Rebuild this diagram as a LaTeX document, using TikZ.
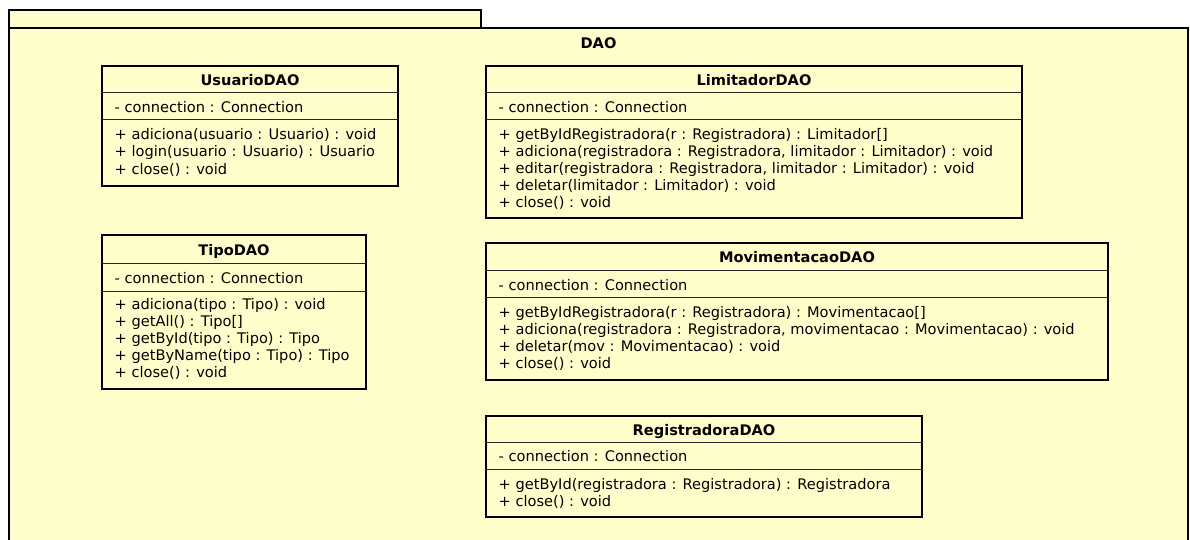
\documentclass[tikz,border=0pt]{standalone}
\usepackage{fontspec}
\setmainfont{DejaVu Sans}
\usetikzlibrary{calc}
\definecolor{umlfill}{HTML}{FFFFCC}
\tikzset{
  pkgframe/.style={draw=black, line width=2.2pt, fill=umlfill, rectangle,
    inner sep=0pt, outer sep=0pt, anchor=north west},
  classbox/.style={draw=black, line width=2.4pt, fill=umlfill, rectangle,
    inner sep=0pt, outer sep=0pt, anchor=north west},
  divider/.style={draw=black!85, line width=1pt},
  classname/.style={font=\fontsize{14.6}{17}\selectfont\bfseries, anchor=base, inner sep=0pt},
  member/.style={font=\fontsize{14.6}{17}\selectfont, anchor=base west, inner sep=0pt},
}
% #1 node name, #2 class box, #3 baseline offset from top, #4 text
\newcommand\umlmember[4]{\node[member] (#1) at ($(#2.north west)+(12.5,#3)$) {#4};}
% #1 class box, #2 offset of the divider from the top
\newcommand\umldivider[2]{\draw[divider] ($(#1.north west)+(0,#2)$) -- ($(#1.north east)+(0,#2)$);}

\begin{document}
\begin{tikzpicture}[x=1pt,y=-1pt]
\useasboundingbox (0,0) rectangle (1190,540);
\clip (0,0) rectangle (1190,540);
\fill[white] (0,0) rectangle (1190,540);

% package DAO: tab and body
\node[pkgframe, minimum width=472pt, minimum height=18pt] (daotab) at (9,10) {};
\node[pkgframe, minimum width=1179pt, minimum height=540pt] (dao) at (9,28) {};
\node[classname] (daoname) at ($(dao.north)+(0,20.5)$) {DAO};

% UsuarioDAO
\node[classbox, minimum width=296pt, minimum height=120pt] (usuario) at (102,66) {};
\node[classname] (usuario-name) at ($(usuario.north)+(0,19.5)$) {UsuarioDAO};
\umldivider{usuario}{27}
\umldivider{usuario}{54}
\umlmember{usuario-a1}{usuario}{47}{- connection : Connection}
\umlmember{usuario-m1}{usuario}{73.3}{+ adiciona(usuario : Usuario) : void}
\umlmember{usuario-m2}{usuario}{90.8}{+ login(usuario : Usuario) : Usuario}
\umlmember{usuario-m3}{usuario}{108.3}{+ close() : void}

% TipoDAO
\node[classbox, minimum width=264pt, minimum height=154pt] (tipo) at (102,235) {};
\node[classname] (tipo-name) at ($(tipo.north)+(0,20)$) {TipoDAO};
\umldivider{tipo}{28}
\umldivider{tipo}{56}
\umlmember{tipo-a1}{tipo}{48}{- connection : Connection}
\umlmember{tipo-m1}{tipo}{74}{+ adiciona(tipo : Tipo) : void}
\umlmember{tipo-m2}{tipo}{91.2}{+ getAll() : Tipo[]}
\umlmember{tipo-m3}{tipo}{108.4}{+ getById(tipo : Tipo) : Tipo}
\umlmember{tipo-m4}{tipo}{125.6}{+ getByName(tipo : Tipo) : Tipo}
\umlmember{tipo-m5}{tipo}{142.8}{+ close() : void}

% LimitadorDAO
\node[classbox, minimum width=536pt, minimum height=152pt] (limitador) at (486,66) {};
\node[classname] (limitador-name) at ($(limitador.north)+(0,19.5)$) {LimitadorDAO};
\umldivider{limitador}{27}
\umldivider{limitador}{54}
\umlmember{limitador-a1}{limitador}{47}{- connection : Connection}
\umlmember{limitador-m1}{limitador}{74}{+ getByIdRegistradora(r : Registradora) : Limitador[]}
\umlmember{limitador-m2}{limitador}{90.9}{+ adiciona(registradora : Registradora, limitador : Limitador) : void}
\umlmember{limitador-m3}{limitador}{107.8}{+ editar(registradora : Registradora, limitador : Limitador) : void}
\umlmember{limitador-m4}{limitador}{124.7}{+ deletar(limitador : Limitador) : void}
\umlmember{limitador-m5}{limitador}{141.6}{+ close() : void}

% MovimentacaoDAO
\node[classbox, minimum width=622pt, minimum height=137pt] (movimentacao) at (486,243) {};
\node[classname] (movimentacao-name) at ($(movimentacao.north)+(0,19.5)$) {MovimentacaoDAO};
\umldivider{movimentacao}{27}
\umldivider{movimentacao}{54}
\umlmember{movimentacao-a1}{movimentacao}{47}{- connection : Connection}
\umlmember{movimentacao-m1}{movimentacao}{74}{+ getByIdRegistradora(r : Registradora) : Movimentacao[]}
\umlmember{movimentacao-m2}{movimentacao}{91}{+ adiciona(registradora : Registradora, movimentacao : Movimentacao) : void}
\umlmember{movimentacao-m3}{movimentacao}{108}{+ deletar(mov : Movimentacao) : void}
\umlmember{movimentacao-m4}{movimentacao}{125}{+ close() : void}

% RegistradoraDAO
\node[classbox, minimum width=436pt, minimum height=101pt] (registradora) at (486,416) {};
\node[classname] (registradora-name) at ($(registradora.north)+(0,19)$) {RegistradoraDAO};
\umldivider{registradora}{26}
\umldivider{registradora}{53}
\umlmember{registradora-a1}{registradora}{45}{- connection : Connection}
\umlmember{registradora-m1}{registradora}{73}{+ getById(registradora : Registradora) : Registradora}
\umlmember{registradora-m2}{registradora}{90}{+ close() : void}
\end{tikzpicture}
\end{document}
